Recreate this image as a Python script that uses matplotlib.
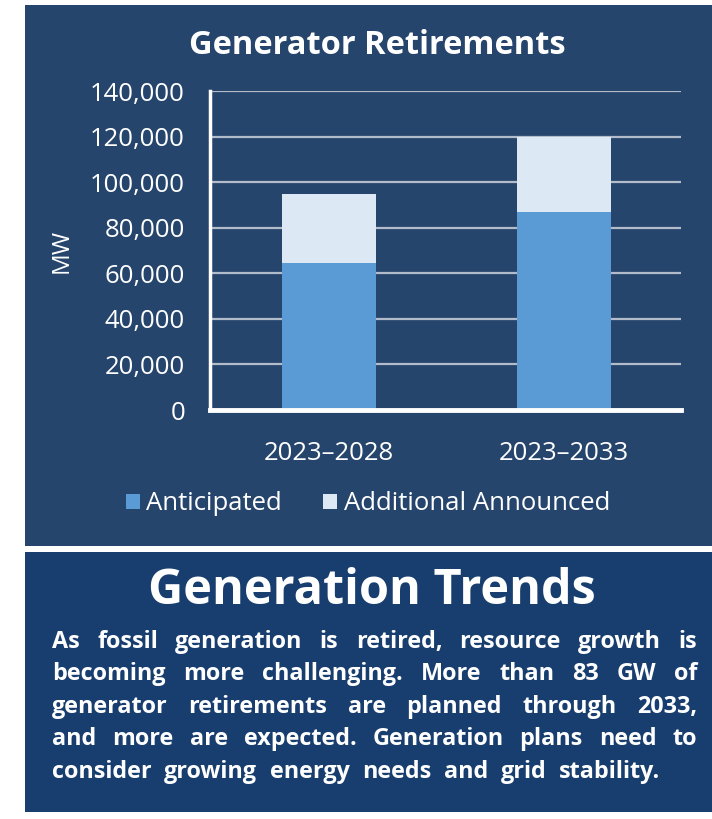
import matplotlib
matplotlib.use("Agg")
import matplotlib.pyplot as plt
from matplotlib.patches import Rectangle
from matplotlib.ticker import FuncFormatter
import numpy as np

# data
periods = ["2023\u20132028", "2023\u20132033"]
anticipated = [64500, 87000]
additional = [30500, 33000]   # stacked on top of anticipated
series_names = ["Anticipated", "Additional Announced"]
yticks = [0, 20000, 40000, 60000, 80000, 100000, 120000, 140000]

body_lines = [
    "As fossil generation is retired, resource growth is",
    "becoming more challenging. More than 83 GW of",
    "generator retirements are planned through 2033,",
    "and more are expected. Generation plans need to",
    "consider growing energy needs and grid stability.",
]

c_ant = "#5b9bd5"
c_add = "#dde8f5"
c_top = "#26456c"
c_bot = "#173e6e"
c_grid = "#b3bccb"

W, H = 712, 819
fig = plt.figure(figsize=(W / 100, H / 100), dpi=100, facecolor="white")

def fx(px):
    return px / W

def fy(py):
    return 1 - py / H

# background panels
fig.patches.append(Rectangle((fx(25), fy(546)), 1 - fx(25), fy(5) - fy(546),
                             transform=fig.transFigure, facecolor=c_top, edgecolor="none", zorder=-5))
fig.patches.append(Rectangle((fx(25), fy(812)), 1 - fx(25), fy(552) - fy(812),
                             transform=fig.transFigure, facecolor=c_bot, edgecolor="none", zorder=-5))

ax = fig.add_axes([fx(210), fy(410), fx(681) - fx(210), fy(91) - fy(410)])
ax.set_facecolor("none")
x = np.arange(len(periods))
ax.bar(x, anticipated, 0.4, color=c_ant, label=series_names[0], zorder=3)
ax.bar(x, additional, 0.4, bottom=anticipated, color=c_add, label=series_names[1], zorder=3)
ax.set_xlim(-0.506, 1.498)
ax.set_ylim(0, 140000)
ax.set_yticks(yticks)
ax.yaxis.set_major_formatter(FuncFormatter(lambda v, p: f"{int(v):,}"))
ax.set_xticks(x)
ax.set_xticklabels(periods)
ax.tick_params(length=0, colors="white", labelsize=18.5)
ax.tick_params(axis="y", pad=18)
ax.tick_params(axis="x", pad=22)
for lab in ax.get_xticklabels() + ax.get_yticklabels():
    lab.set_fontfamily("Open Sans")
ax.grid(axis="y", color=c_grid, lw=1.6, zorder=1)
for s in ["top", "right"]:
    ax.spines[s].set_visible(False)
ax.spines["left"].set_color("white")
ax.spines["left"].set_linewidth(2.5)
ax.spines["bottom"].set_color("white")
ax.spines["bottom"].set_linewidth(3.5)
ax.spines["bottom"].set_zorder(4)
ax.set_ylabel("MW", color="white", fontsize=17.5, family="Open Sans")
ax.yaxis.set_label_coords(-0.29, 0.5)

fig.text(fx(377), fy(45), "Generator Retirements", color="white", fontsize=23.5,
         fontweight="bold", family="Open Sans", ha="center", va="center")

leg = fig.legend(loc="center", bbox_to_anchor=(fx(368), fy(504)), ncol=2, frameon=False,
                 handlelength=0.55, handleheight=0.55, handletextpad=0.25, columnspacing=1.6,
                 prop={"family": "Open Sans", "size": 18.5})
for t in leg.get_texts():
    t.set_color("white")

fig.text(fx(372), fy(592), "Generation Trends", color="white", fontsize=35,
         fontweight="bold", family="Open Sans", ha="center", va="center")

# justified body text
fig.canvas.draw()
renderer = fig.canvas.get_renderer()
left, right = 52, 697
last_right = 660
fs = 16.8
ys = [642, 674, 707, 739, 772]
for i, (line, yy) in enumerate(zip(body_lines, ys)):
    words = line.split(" ")
    texts = [fig.text(0, fy(yy), w, color="white", fontsize=fs, fontweight="bold",
                      family="Open Sans", ha="left", va="center") for w in words]
    widths = [t.get_window_extent(renderer).width for t in texts]
    end = right if i < len(body_lines) - 1 else last_right
    gap = (end - left - sum(widths)) / (len(words) - 1)
    cx = left
    for t, w in zip(texts, widths):
        t.set_x(fx(cx))
        cx += w + gap

fig.savefig("out.png", dpi=100, facecolor="white")
